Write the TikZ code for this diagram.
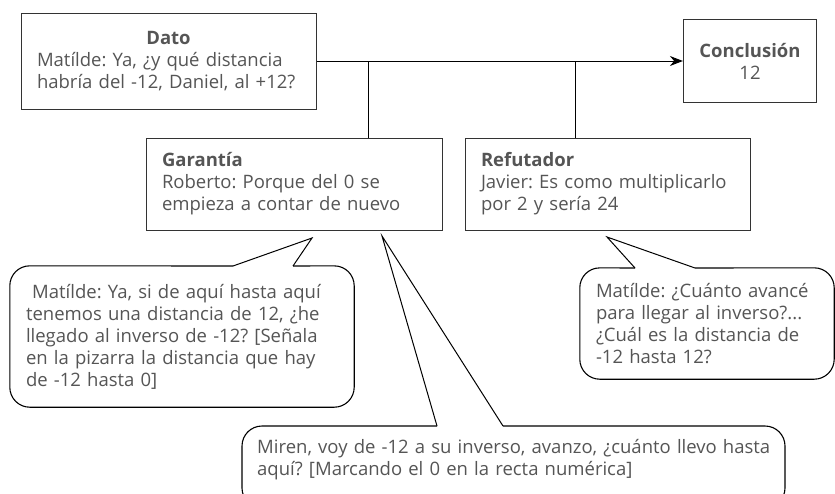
\documentclass[tikz,border=0pt]{standalone}
\usepackage{fontspec}
\setmainfont{Open Sans}
\usepackage{tikz}
\usetikzlibrary{arrows.meta,positioning,calc}
\definecolor{textgray}{HTML}{555555}
\definecolor{linegray}{HTML}{333333}
\frenchspacing

\begin{document}
\begin{tikzpicture}[x=1pt, y=-1pt,
  argbox/.style={draw=linegray, line width=1pt, text=textgray, inner xsep=16pt, align=left, font=\fontsize{18.5}{22}\selectfont},
  bubble/.style={text=textgray, inner xsep=16pt, align=left, font=\fontsize{18.5}{22}\selectfont},
  link/.style={black, line width=1pt},
  bubbleline/.style={black, line width=1.1pt, rounded corners=20pt}]
\useasboundingbox (0,0) rectangle (835,493);
\clip (0,0) rectangle (835,493);

% argument boxes
\node[argbox, text width=263pt, minimum height=96pt] (dato) at (168.5,61) {\hfill\textbf{Dato}\hfill\mbox{}\\Matílde: Ya, ¿y qué distancia\\habría del -12, Daniel, al +12?};
\node[argbox, align=center, minimum width=132pt, minimum height=83pt] (concl) at (750,61) {\textbf{Conclusión}\\12};
\node[argbox, text width=264pt, minimum height=92pt] (garantia) at (294,184) {\textbf{Garantía}\\Roberto: Porque del 0 se\\empieza a contar de nuevo};
\node[argbox, text width=253pt, minimum height=92pt] (refutador) at (607.5,184) {\textbf{Refutador}\\Javier: Es como multiplicarlo\\por 2 y sería 24};

% connectors
\coordinate (jg) at (368,61);
\coordinate (jr) at (575,61);
\draw[link, -{Stealth[length=13pt,width=10pt]}] (dato.east) -- (concl.west);
\draw[link] (jg) -- (jg |- garantia.north);
\draw[link] (jr) -- (jr |- refutador.north);

% speech bubbles
\node[bubble, text width=312pt, minimum height=141pt] (matA) at (182,336.5) {\ Matílde: Ya, si de aquí hasta aquí\\tenemos una distancia de 12, ¿he\\llegado al inverso de -12? [Señala\\en la pizarra la distancia que hay\\de -12 hasta 0]};
\coordinate (tipA) at (312,238);
\draw[bubbleline] (293,266) -- (matA.north east) -- (matA.south east) -- (matA.south west) -- (matA.north west) -- (233,266);
\draw[link] (233,266) -- (tipA) -- (293,266);

\node[bubble, text width=222pt, minimum height=111pt] (matB) at (707,323.5) {Matílde: ¿Cuánto avancé\\para llegar al inverso?...\\¿Cuál es la distancia de\\-12 hasta 12?};
\coordinate (tipB) at (607,237);
\draw[bubbleline] (695,268) -- (matB.north east) -- (matB.south east) -- (matB.south west) -- (matB.north west) -- (635,268);
\draw[link] (635,268) -- (tipB) -- (695,268);

\node[bubble, anchor=north west, text width=540pt, inner xsep=15pt, inner ysep=13pt] (miren) at (242,426) {Miren, voy de -12 a su inverso, avanzo, ¿cuánto llevo hasta\\aquí? [Marcando el 0 en la recta numérica]};
\coordinate (mirenBR) at (785,508);
\coordinate (tipC) at (382,236);
\draw[bubbleline] (503,426) -- (mirenBR |- miren.north) -- (mirenBR) -- (miren.north west |- mirenBR) -- (miren.north west) -- (437,426);
\draw[link] (437,426) -- (tipC) -- (503,426);
\end{tikzpicture}
\end{document}
